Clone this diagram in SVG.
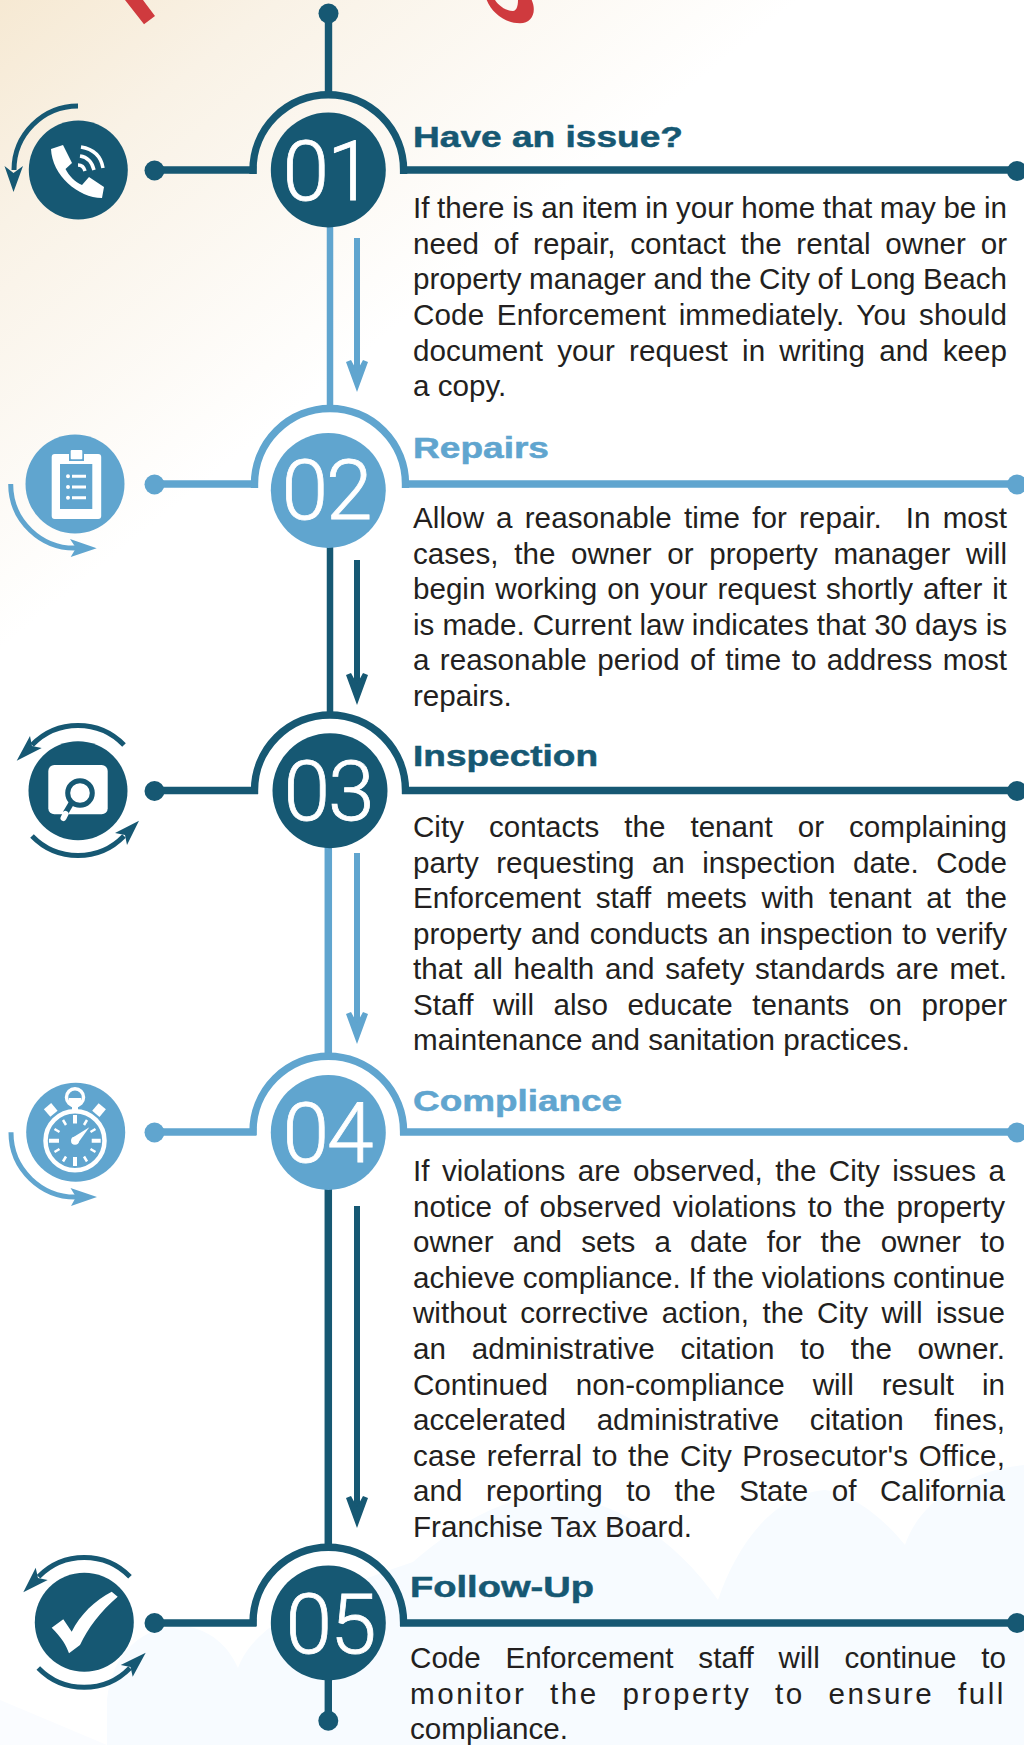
<svg xmlns="http://www.w3.org/2000/svg" width="1024" height="1745" viewBox="0 0 1024 1745">
<style>
.dark{fill:#165873}.light{fill:#60a5cf}
.ds{stroke:#165873;fill:none}.ls{stroke:#60a5cf;fill:none}
.w7{stroke-width:7.4}.w6{stroke-width:6}.w5{stroke-width:5}
.white{fill:#fff}
.ws{stroke:#fff;fill:none}
.num{font-family:Roboto,"Liberation Sans",sans-serif;font-weight:300;font-size:84px;fill:#fff;stroke:#fff;stroke-width:.8;text-anchor:middle;letter-spacing:-2px}
.head{font-family:"Liberation Sans",Arial,sans-serif;font-weight:700;font-size:30px;stroke-width:.5}
.hd{stroke:#165873}.hl{stroke:#60a5cf}
.body{font-family:"Liberation Sans",Arial,sans-serif;font-size:29.6px;fill:#231f20}
</style>
<defs>
<linearGradient id="bg" x1="0" y1="0" x2="318" y2="391" gradientUnits="userSpaceOnUse">
<stop offset="0" stop-color="#f6e9d3"/><stop offset=".35" stop-color="#f9f2e6"/><stop offset="1" stop-color="#fff"/>
</linearGradient>
<path id="ah" d="M-11 -30L-6 -32L0 -21L6 -32L11 -30L0 0Z"/>
</defs>
<rect width="1024" height="1745" fill="url(#bg)"/>
<path d="M107 1745V1700C112 1650 145 1625 185 1626C210 1630 228 1645 238 1668C255 1620 330 1590 413 1562C450 1530 500 1495 555 1495C620 1500 680 1545 718 1600C735 1550 770 1495 825 1490C855 1495 885 1520 905 1545C920 1500 970 1470 1024 1465V1745Z" fill="#f7fbff"/>
<path d="M0 1700L107 1745H0Z" fill="#fafcff"/>
<path d="M125 0H143L146.700 5L155 16L144 24.300Z" fill="#cf3a3e"/>
<path d="M486.700 0C492 13 505 23.300 520 23.300C532 23.300 537 12 531.700 0H518C518 7 516 11 513 11C506 11 499 6 495 0Z" fill="#cf3a3e"/>

<g id="connectors">
<path class="ds w7" d="M328.500 13V92"/>
<path class="ls" stroke-width="6.500" d="M330 226V406"/>
<path class="ds" stroke-width="6.500" d="M330 547V713"/>
<path class="ls" stroke-width="7.500" d="M328.300 847V1055"/>
<path class="ds" stroke-width="7.500" d="M328.300 1189V1546"/>
<path class="ds w7" d="M328.300 1680V1720"/>
<path class="ls w6" d="M357 238V375"/><use href="#ah" class="light" transform="translate(357 392)"/>
<path class="ds w6" d="M357 560V690"/><use href="#ah" class="dark" transform="translate(357 705)"/>
<path class="ls w6" d="M357 853V1030"/><use href="#ah" class="light" transform="translate(357 1044)"/>
<path class="ds w6" d="M357 1206V1512"/><use href="#ah" class="dark" transform="translate(357 1528)"/>
</g>

<g id="node-01">
<circle class="dark" cx="328.500" cy="13.500" r="10"/>
<path class="ds w7" d="M253 174V170A75.300 75.300 0 0 1 403.600 170V174"/>
<path class="ds w7" d="M154 170H256.500M400 170H1017"/>
<circle class="dark" cx="154.500" cy="170.500" r="10"/><circle class="dark" cx="1017" cy="171" r="10"/>
<circle class="dark" cx="328.300" cy="170" r="57.500"/>
<text class="num" x="327" y="200">01</text>
<circle class="dark" cx="78.300" cy="170" r="49.500"/>
<path class="white" d="M51 149L63 145L72 163L65.500 169C69 176 75 182 82 185L89 177L104 187L102 198C78 198 52 175 51 149Z"/>
<path class="ws" stroke-width="3.500" d="M81 147C93 149 101 156 103 168M80 156C87 157 92 162 94 170M78 165C81 165 84 167 85 171"/>
<path class="ds w5" d="M78 106A64 64 0 0 0 14 170"/>
<path class="dark" d="M4.500 166L13.500 173L23 166L13.500 192Z"/>
<text class="head dark hd" x="413" y="147" textLength="270" lengthAdjust="spacingAndGlyphs">Have an issue?</text>
<text class="body" y="218" x="413" textLength="594" word-spacing="-.5">If there is an item in your home that may be in</text>
<text class="body" y="253.600" x="413" textLength="594" word-spacing="6.400">need of repair, contact the rental owner or</text>
<text class="body" y="289" x="413" textLength="594" word-spacing="-.7">property manager and the City of Long Beach</text>
<text class="body" y="325" x="413" textLength="594" word-spacing="4.100">Code Enforcement immediately. You should</text>
<text class="body" y="360.600" x="413" textLength="594" word-spacing="6">document your request in writing and keep</text>
<text class="body" y="396" x="413">a copy.</text>
</g>

<g id="node-02">
<path class="ls w7" d="M254.500 488V484A75.500 75.500 0 0 1 405.500 484V488"/>
<path class="ls w7" d="M154 484H258M402 484H1017"/>
<circle class="light" cx="154.500" cy="484.500" r="10"/><circle class="light" cx="1017" cy="484.500" r="10"/>
<circle class="light" cx="328.300" cy="490.500" r="57.500"/>
<text class="num" x="326" y="519">02</text>
<circle class="light" cx="75" cy="484" r="49.500"/>
<rect class="white" x="51.700" y="454" width="49.500" height="65" rx="3"/>
<rect class="light" x="60" y="464" width="32.300" height="45"/>
<rect class="light" x="69" y="449" width="15" height="12"/>
<rect class="white" x="70.700" y="450" width="11.600" height="9.300" rx="1"/>
<path class="ws" stroke-width="3" d="M72 476.300H86M72 487H86M72 497.700H86"/>
<path class="white" d="M66 476.300a2 2 0 1 0 4 0a2 2 0 1 0-4 0M66 487a2 2 0 1 0 4 0a2 2 0 1 0-4 0M66 497.700a2 2 0 1 0 4 0a2 2 0 1 0-4 0"/>
<path class="ls w5" d="M10.700 484A64 64 0 0 0 78 548"/>
<path class="light" d="M70 539L96.700 548.300L70.700 557L76 548Z"/>
<text class="head light hl" x="413" y="458" textLength="136" lengthAdjust="spacingAndGlyphs">Repairs</text>
<text class="body" y="528" x="413" textLength="594" word-spacing="3.700">Allow a reasonable time for repair.&#160; In most</text>
<text class="body" y="563.500" x="413" textLength="594" word-spacing="7.400">cases, the owner or property manager will</text>
<text class="body" y="599" x="413" textLength="594" word-spacing="1.700">begin working on your request shortly after it</text>
<text class="body" y="634.500" x="413" textLength="594" word-spacing="-.2">is made. Current law indicates that 30 days is</text>
<text class="body" y="670" x="413" textLength="594" word-spacing="2.100">a reasonable period of time to address most</text>
<text class="body" y="705.500" x="413">repairs.</text>
</g>

<g id="node-03">
<path class="ds w7" d="M254.500 794V790.500A75.500 75.500 0 0 1 405.500 790.500V794"/>
<path class="ds w7" d="M154 790.500H258M402 790.500H1017"/>
<circle class="dark" cx="154.500" cy="791" r="10"/><circle class="dark" cx="1017" cy="791" r="10"/>
<circle class="dark" cx="330" cy="790.700" r="57.500"/>
<text class="num" x="328" y="820">03</text>
<circle class="dark" cx="78" cy="790.700" r="49.500"/>
<rect class="white" x="48.300" y="765" width="59.400" height="49.300" rx="6"/>
<path class="ds" stroke-width="5.500" d="M72 802L65.500 813"/>
<path class="ws" stroke-width="6" stroke-linecap="round" d="M65.500 814L63.500 818"/>
<circle cx="80" cy="793" r="12.300" fill="#fff" stroke="#165873" stroke-width="5"/>
<path class="ds w5" d="M124 745A64 64 0 0 0 32 745"/>
<path class="dark" d="M30 736L32 746L41.700 748L16.700 760.700Z"/>
<path class="ds w5" d="M32 836A64 64 0 0 0 124 836"/>
<path class="dark" d="M115 833L125 835L127 845L139 820.700Z"/>
<text class="head dark hd" x="413" y="766" textLength="185" lengthAdjust="spacingAndGlyphs">Inspection</text>
<text class="body" y="837" x="413" textLength="594" word-spacing="16.800">City contacts the tenant or complaining</text>
<text class="body" y="872.500" x="413" textLength="594" word-spacing="9.200">party requesting an inspection date. Code</text>
<text class="body" y="908" x="413" textLength="594" word-spacing="6.600">Enforcement staff meets with tenant at the</text>
<text class="body" y="943.500" x="413" textLength="594" word-spacing="1.100">property and conducts an inspection to verify</text>
<text class="body" y="979" x="413" textLength="594" word-spacing="2.600">that all health and safety standards are met.</text>
<text class="body" y="1014.500" x="413" textLength="594" word-spacing="11.300">Staff will also educate tenants on proper</text>
<text class="body" y="1050" x="413">maintenance and sanitation practices.</text>
</g>

<g id="node-04">
<path class="ls w7" d="M253 1135V1131.500A75.300 75.300 0 0 1 403.600 1131.500V1135"/>
<path class="ls w7" d="M154 1132H256.500M400 1132H1017"/>
<circle class="light" cx="154.500" cy="1132.500" r="10"/><circle class="light" cx="1017" cy="1132.500" r="10"/>
<circle class="light" cx="328.300" cy="1132.500" r="57.500"/>
<text class="num" x="327" y="1162">04</text>
<circle class="light" cx="75.700" cy="1132.300" r="49.500"/>
<circle cx="75" cy="1140.700" r="29.500" fill="none" stroke="#fff" stroke-width="4.500"/>
<circle cx="75" cy="1097.300" r="8.500" fill="none" stroke="#fff" stroke-width="3.500"/>
<path class="white" d="M69 1098H81V1103H78V1110H72V1103H69Z"/>
<rect class="white" x="46" y="1105" width="9.500" height="10" transform="rotate(-40 50.700 1110)"/>
<rect class="white" x="94.300" y="1105" width="9.500" height="10" transform="rotate(40 99 1110)"/>
<path class="ws" stroke-width="4" d="M75 1115V1123.500M75 1157V1166M49 1140.700H59M91.700 1140.700H100.700"/>
<path class="ws" stroke-width="2.500" d="M63 1120L66 1125M87 1120L84 1125M54.500 1129L59.500 1132M95.500 1129L90.500 1132M54.500 1152L59.500 1149M95.500 1152L90.500 1149M63 1161.500L66 1156.500M87 1161.500L84 1156.500"/>
<path class="white" d="M72 1138L89.300 1127.300L78 1143Z"/><circle class="white" cx="75" cy="1140.700" r="4"/>
<path class="ls w5" d="M11 1132.300A64.500 64.500 0 0 0 78 1197"/>
<path class="light" d="M70.500 1188L97 1197L71 1206L76 1197Z"/>
<text class="head light hl" x="413" y="1111" textLength="209" lengthAdjust="spacingAndGlyphs">Compliance</text>
<text class="body" y="1181" x="413" textLength="592" word-spacing="4.200">If violations are observed, the City issues a</text>
<text class="body" y="1216.600" x="413" textLength="592" word-spacing="3.200">notice of observed violations to the property</text>
<text class="body" y="1252.200" x="413" textLength="592" word-spacing="10.900">owner and sets a date for the owner to</text>
<text class="body" y="1287.800" x="413" textLength="592" word-spacing="-.4">achieve compliance. If the violations continue</text>
<text class="body" y="1323.400" x="413" textLength="592" word-spacing="5.200">without corrective action, the City will issue</text>
<text class="body" y="1359" x="413" textLength="592" word-spacing="17.400">an administrative citation to the owner.</text>
<text class="body" y="1394.600" x="413" textLength="592" word-spacing="19.700">Continued non-compliance will result in</text>
<text class="body" y="1430.200" x="413" textLength="592" word-spacing="22.400">accelerated administrative citation fines,</text>
<text class="body" y="1465.800" x="413" textLength="592" word-spacing="1.900">case referral to the City Prosecutor's Office,</text>
<text class="body" y="1501.400" x="413" textLength="592" word-spacing="15.300">and reporting to the State of California</text>
<text class="body" y="1537" x="413">Franchise Tax Board.</text>
</g>

<g id="node-05">
<path class="ds w7" d="M253 1626V1622.500A75.300 75.300 0 0 1 403.600 1622.500V1626"/>
<path class="ds w7" d="M154 1623H256.500M400 1623H1017"/>
<circle class="dark" cx="154.500" cy="1623" r="10"/><circle class="dark" cx="1017" cy="1623" r="10"/>
<circle class="dark" cx="328.300" cy="1720.700" r="10"/>
<circle class="dark" cx="328.300" cy="1623" r="57.500"/>
<text class="num" x="330" y="1653">05</text>
<circle class="dark" cx="84.300" cy="1622.300" r="49.500"/>
<path class="white" d="M51.700 1627.700L63.300 1619.300L71.700 1631.700C80 1615 95 1600 111.700 1591.700L117.700 1596.700C100 1612 88 1628 80 1645L69 1653.300C66 1645 62 1638 51.700 1627.700Z"/>
<path class="ds w5" d="M130 1576.700A64 64 0 0 0 38.500 1576.700"/>
<path class="dark" d="M35.700 1567.700L38 1578L47.700 1580L23.300 1592.300Z"/>
<path class="ds w5" d="M38.300 1668A64 64 0 0 0 130 1668"/>
<path class="dark" d="M120.700 1665L130.500 1667L132.700 1676.700L145.700 1652.700Z"/>
<text class="head dark hd" x="410" y="1597" textLength="184" lengthAdjust="spacingAndGlyphs">Follow-Up</text>
<text class="body" y="1668" x="410" textLength="596" word-spacing="16.500">Code Enforcement staff will continue to</text>
<text class="body" y="1704" x="410" textLength="596" letter-spacing="2.600" word-spacing="13">monitor the property to ensure full</text>
<text class="body" y="1739" x="410">compliance.</text>
</g>
</svg>
